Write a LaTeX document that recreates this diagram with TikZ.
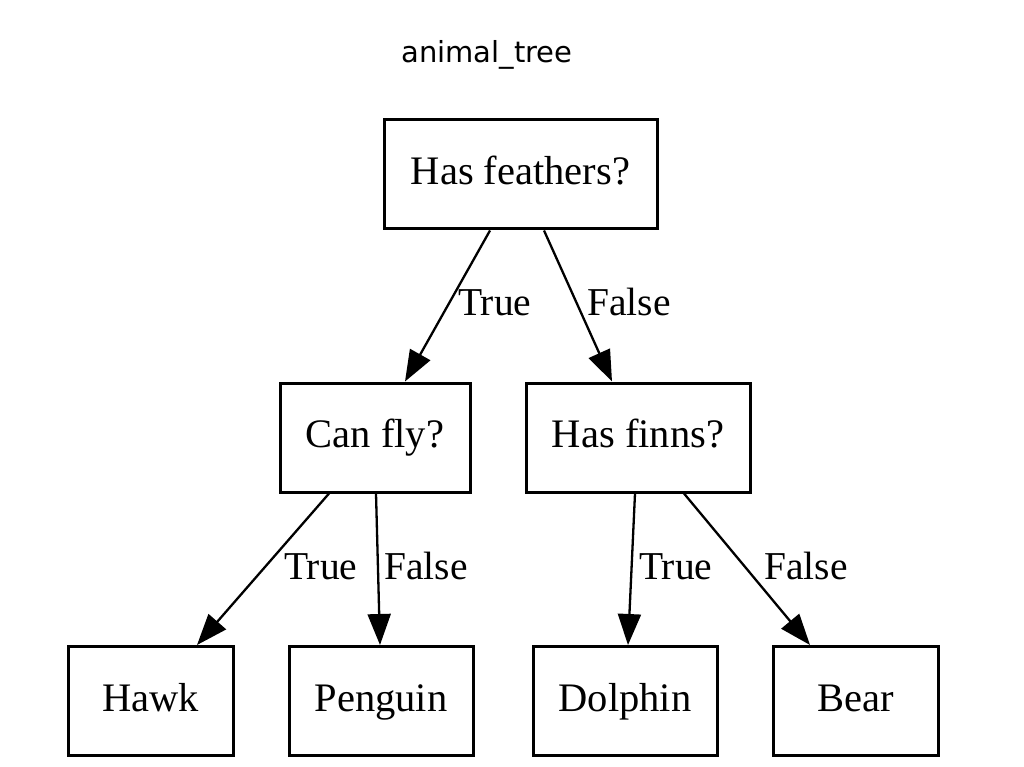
\documentclass[tikz,border=0pt]{standalone}
\usepackage{fontspec}
\setmainfont{Liberation Serif}
\newfontfamily\titlefont{DejaVu Sans}
\usetikzlibrary{arrows.meta,calc}
\begin{document}
\begin{tikzpicture}[x=1pt,y=-1pt,
  box/.style={draw=black,line width=3pt,minimum height=109pt,inner sep=0pt,
    text height=29pt,text depth=9pt,font=\fontsize{40.5}{48}\selectfont},
  edge/.style={draw=black,line width=2.3pt,-{Triangle[length=31pt,width=23pt]}},
  lbl/.style={anchor=base west,inner sep=0pt,font=\fontsize{39.5}{46}\selectfont}]
\fill[white] (0,0) rectangle (1024,767);
\useasboundingbox (0,0) rectangle (1024,767);
\node[anchor=base,inner sep=0pt,font=\titlefont\fontsize{29}{34}\selectfont] (title) at (487,63) {animal\_tree};
\node[box,minimum width=273pt] (hf) at (520.5,174.5) {Has feathers?};
\node[box,minimum width=190pt] (cf) at (375,437.5) {Can fly?};
\node[box,minimum width=224pt] (hfi) at (638,437.5) {Has finns?};
\node[box,minimum width=165pt] (hawk) at (150.5,701) {Hawk};
\node[box,minimum width=184pt] (penguin) at (381,701) {Penguin};
\node[box,minimum width=184pt] (dolphin) at (625,701) {Dolphin};
\node[box,minimum width=165pt] (bear) at (855.5,701) {Bear};
\draw[edge] ($(hf.south)+(-30.5,0)$) -- ($(cf.north)+(30,0)$);
\draw[edge] ($(hf.south)+(23.5,0)$) -- ($(hfi.north)+(-26,0)$);
\draw[edge] ($(cf.south)+(-46,0)$) -- ($(hawk.north)+(46.5,0)$);
\draw[edge] ($(cf.south)+(1,0)$) -- ($(penguin.north)+(-1,0)$);
\draw[edge] ($(hfi.south)+(-3,0)$) -- ($(dolphin.north)+(3,0)$);
\draw[edge] ($(hfi.south)+(46,0)$) -- ($(bear.north)+(-45.5,0)$);
\node[lbl] (l1) at (458,315) {True};
\node[lbl] (l2) at (587,315) {False};
\node[lbl] (l3) at (284,579) {True};
\node[lbl] (l4) at (384,579) {False};
\node[lbl] (l5) at (639,579) {True};
\node[lbl] (l6) at (764,579) {False};
\end{tikzpicture}
\end{document}
